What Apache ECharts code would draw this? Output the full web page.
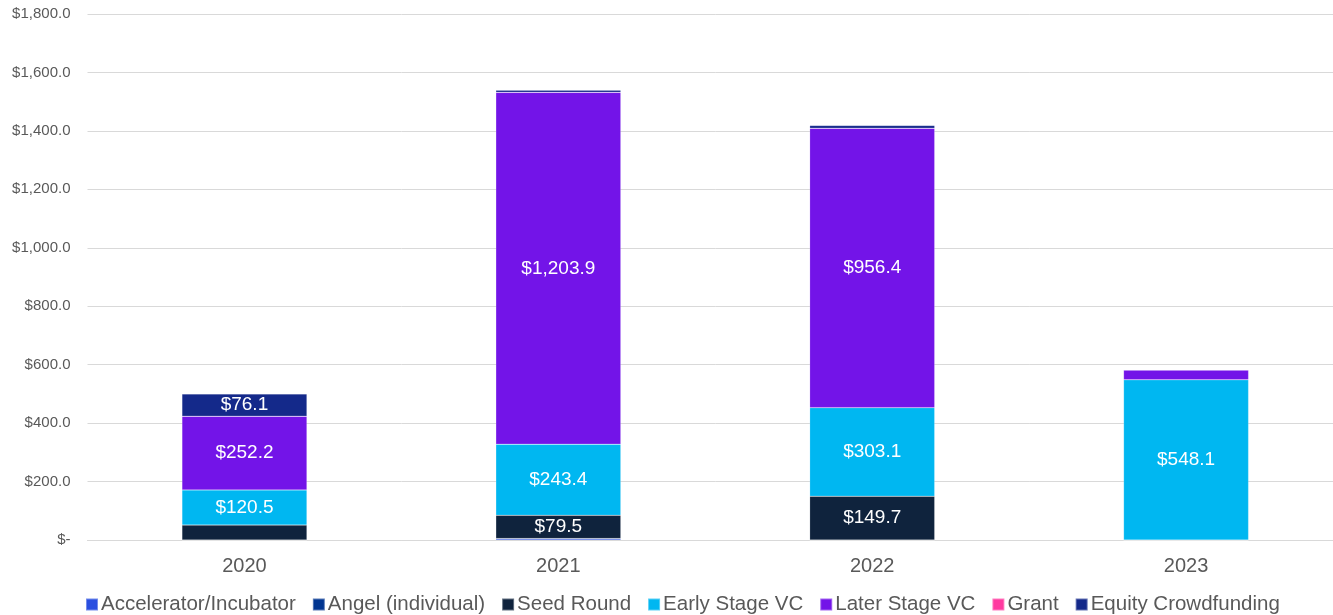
<!DOCTYPE html>
<html>
<head>
<meta charset="utf-8">
<script src="https://cdn.jsdelivr.net/npm/echarts@6/dist/echarts.min.js"></script>
<style>
  html, body { margin: 0; padding: 0; background: #fff; overflow: hidden; }
  #chart { width: 1343px; height: 615px; }
</style>
</head>
<body>
<div id="chart"></div>
<script>
// Funding by deal type, $ millions
const years = ['2020', '2021', '2022', '2023'];
const seriesNames = ['Accelerator/Incubator', 'Angel (individual)', 'Seed Round', 'Early Stage VC', 'Later Stage VC', 'Grant', 'Equity Crowdfunding'];
const accelerator = [0, 5, 0, 0];
const angel = [0, 0, 0, 0];
const seedRound = [51, 79.5, 149.7, 0];
const earlyStageVC = [120.5, 243.4, 303.1, 548.1];
const laterStageVC = [252.2, 1203.9, 956.4, 34];
const grant = [0, 0, 0, 0];
const equityCrowdfunding = [76.1, 7, 9.5, 0];
const yTicks = [0, 200, 400, 600, 800, 1000, 1200, 1400, 1600, 1800];

const colors = ['#2a4fe0', '#003591', '#0f233d', '#00b7f1', '#7314e8', '#ff3aa0', '#14298a'];
const values = [accelerator, angel, seedRound, earlyStageVC, laterStageVC, grant, equityCrowdfunding];
const FONT = 'Liberation Sans, Arial, sans-serif';

function money(v) {
  if (v === 0) return '$-';
  return '$' + v.toLocaleString('en-US', { minimumFractionDigits: 1, maximumFractionDigits: 1 });
}

const chart = echarts.init(document.getElementById('chart'));
chart.setOption({
  animation: false,
  color: colors,
  grid: { left: 87.5, top: 14, right: 0, bottom: 75, containLabel: false },
  legend: {
    top: 589,
    left: 80,
    itemWidth: 12,
    itemHeight: 12,
    itemGap: 16,
    icon: 'rect',
    textStyle: { fontFamily: FONT, fontSize: 20.5, color: '#595959', padding: [0, 0, 0, -2] },
    data: seriesNames
  },
  xAxis: {
    type: 'category',
    data: years,
    axisLine: { lineStyle: { color: '#d9d9d9' } },
    axisTick: { show: false },
    axisLabel: { fontFamily: FONT, fontSize: 20, color: '#595959', margin: 16 }
  },
  yAxis: {
    type: 'value',
    min: yTicks[0],
    max: yTicks[yTicks.length - 1],
    interval: 200,
    axisLine: { show: false },
    axisTick: { show: false },
    splitLine: { lineStyle: { color: '#d9d9d9' } },
    axisLabel: {
      fontFamily: FONT, fontSize: 15, color: '#595959', margin: 17,
      formatter: money
    }
  },
  series: seriesNames.map((name, i) => ({
    name: name,
    type: 'bar',
    stack: 'total',
    barWidth: 125,
    data: values[i],
    itemStyle: { color: colors[i], borderColor: 'rgba(255,255,255,0.35)', borderWidth: 0.5 },
    label: {
      show: true,
      position: 'inside',
      color: '#fff',
      fontFamily: FONT,
      fontSize: 19,
      formatter: p => (p.value >= 60 ? money(p.value) : '')
    }
  }))
});
</script>
</body>
</html>
